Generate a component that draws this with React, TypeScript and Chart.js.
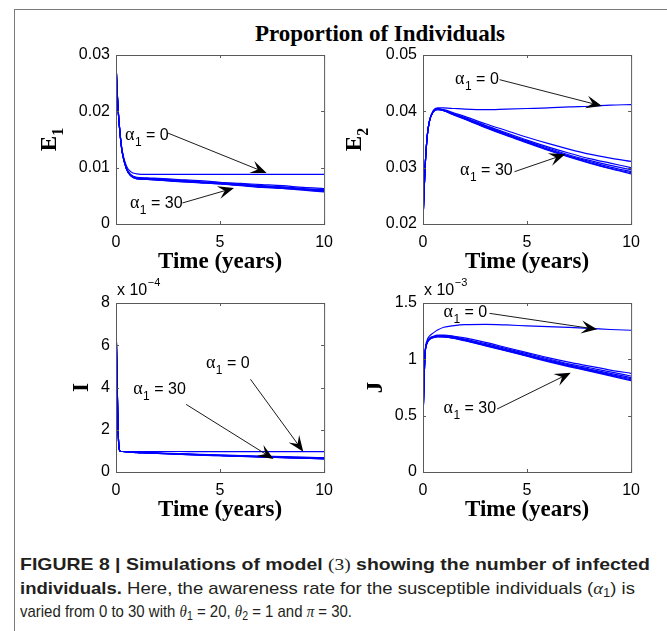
import React, { useEffect, useLayoutEffect, useRef } from "react";
import { Chart, registerables } from "chart.js";
Chart.register(...registerables);

// ---------- data ----------
const T = [0, 0.05, 0.1, 0.2, 0.3, 0.5, 0.7, 1, 1.5, 2, 3, 4, 5, 6, 7, 8, 9, 10];
const ALPHA = [0, 5, 10, 15, 20, 25, 30];

const X_TICKS = [0, 5, 10];
const X_LABELS = ["0", "5", "10"];

// E1
const E1_A0 = [0.0288, 0.024, 0.0205, 0.016, 0.013, 0.0103, 0.0093, 0.0089, 0.0088, 0.0088, 0.0088, 0.0088, 0.0088, 0.0088, 0.0088, 0.0088, 0.0088, 0.0088];
const E1_A5 = [0.0288, 0.024, 0.0204, 0.0158, 0.0127, 0.0099, 0.0088, 0.0083, 0.0082, 0.0081, 0.0079, 0.0077, 0.0074, 0.0072, 0.007, 0.0068, 0.0065, 0.0063];
const E1_A10 = [0.0288, 0.024, 0.0204, 0.0158, 0.0127, 0.0099, 0.0087, 0.0082, 0.0081, 0.008, 0.0078, 0.0075, 0.0073, 0.0071, 0.0068, 0.0066, 0.0063, 0.0061];
const E1_A15 = [0.0288, 0.024, 0.0204, 0.0158, 0.0127, 0.0098, 0.0087, 0.0081, 0.008, 0.0079, 0.0077, 0.0075, 0.0072, 0.007, 0.0067, 0.0065, 0.0062, 0.006];
const E1_A20 = [0.0288, 0.024, 0.0204, 0.0158, 0.0127, 0.0098, 0.0086, 0.0081, 0.008, 0.0079, 0.0076, 0.0074, 0.0072, 0.0069, 0.0067, 0.0064, 0.0062, 0.0059];
const E1_A25 = [0.0288, 0.024, 0.0204, 0.0158, 0.0127, 0.0098, 0.0086, 0.008, 0.0079, 0.0078, 0.0076, 0.0074, 0.0071, 0.0069, 0.0066, 0.0063, 0.0061, 0.0058];
const E1_A30 = [0.0288, 0.024, 0.0204, 0.0158, 0.0127, 0.0098, 0.0086, 0.008, 0.0079, 0.0078, 0.0075, 0.0073, 0.0071, 0.0068, 0.0065, 0.0063, 0.006, 0.0057];
const E1_TICKS = [0, 0.01, 0.02, 0.03];
const E1_LABELS = ["0", "0.01", "0.02", "0.03"];

// E2
const E2_A0 = [0.0205, 0.0255, 0.03, 0.0355, 0.0382, 0.0402, 0.0406, 0.0406, 0.0405, 0.0404, 0.0403, 0.0404, 0.0405, 0.0406, 0.0408, 0.0409, 0.0411, 0.0412];
const E2_A5 = [0.0205, 0.0255, 0.03, 0.0355, 0.0381, 0.0401, 0.0405, 0.0403, 0.0397, 0.0391, 0.0378, 0.0366, 0.0354, 0.0343, 0.0333, 0.0324, 0.0317, 0.0311];
const E2_A10 = [0.0205, 0.0255, 0.03, 0.0355, 0.0381, 0.04, 0.0404, 0.0402, 0.0395, 0.0389, 0.0375, 0.0362, 0.0349, 0.0337, 0.0326, 0.0316, 0.0308, 0.03];
const E2_A15 = [0.0205, 0.0255, 0.03, 0.0355, 0.0381, 0.04, 0.0404, 0.0402, 0.0395, 0.0388, 0.0374, 0.036, 0.0347, 0.0335, 0.0323, 0.0313, 0.0304, 0.0296];
const E2_A20 = [0.0205, 0.0255, 0.03, 0.0355, 0.0381, 0.04, 0.0404, 0.0401, 0.0394, 0.0387, 0.0373, 0.0359, 0.0346, 0.0333, 0.0321, 0.0311, 0.0301, 0.0293];
const E2_A25 = [0.0205, 0.0255, 0.03, 0.0355, 0.0381, 0.04, 0.0403, 0.0401, 0.0394, 0.0387, 0.0372, 0.0358, 0.0345, 0.0332, 0.032, 0.0309, 0.0299, 0.0291];
const E2_A30 = [0.0205, 0.0255, 0.03, 0.0355, 0.0381, 0.0399, 0.0403, 0.0401, 0.0393, 0.0386, 0.0371, 0.0357, 0.0344, 0.0331, 0.0319, 0.0308, 0.0298, 0.0289];
const E2_TICKS = [0.02, 0.03, 0.04, 0.05];
const E2_LABELS = ["0.02", "0.03", "0.04", "0.05"];

// I (in units of 1e-4)
const I_A0 = [7.2, 4.6, 2.0, 0.98, 0.97, 0.97, 0.97, 0.97, 0.97, 0.97, 0.97, 0.96, 0.96, 0.96, 0.96, 0.96, 0.96, 0.96];
const I_A5 = [7.2, 4.6, 2.0, 0.98, 0.97, 0.96, 0.95, 0.94, 0.92, 0.9, 0.87, 0.84, 0.81, 0.78, 0.75, 0.73, 0.7, 0.68];
const I_A10 = [7.2, 4.6, 2.0, 0.98, 0.97, 0.96, 0.95, 0.93, 0.91, 0.89, 0.86, 0.82, 0.79, 0.76, 0.73, 0.71, 0.68, 0.66];
const I_A15 = [7.2, 4.6, 2.0, 0.98, 0.97, 0.96, 0.94, 0.93, 0.91, 0.89, 0.85, 0.82, 0.78, 0.75, 0.72, 0.7, 0.67, 0.645];
const I_A20 = [7.2, 4.6, 2.0, 0.98, 0.97, 0.96, 0.94, 0.93, 0.9, 0.88, 0.85, 0.81, 0.78, 0.75, 0.72, 0.69, 0.66, 0.635];
const I_A25 = [7.2, 4.6, 2.0, 0.98, 0.97, 0.95, 0.94, 0.92, 0.9, 0.88, 0.84, 0.81, 0.77, 0.74, 0.71, 0.68, 0.65, 0.625];
const I_A30 = [7.2, 4.6, 2.0, 0.98, 0.97, 0.95, 0.94, 0.92, 0.9, 0.88, 0.84, 0.8, 0.77, 0.74, 0.71, 0.68, 0.65, 0.615];
const I_TICKS = [0, 2, 4, 6, 8];
const I_LABELS = ["0", "2", "4", "6", "8"];

// J (in units of 1e-3)
const J_A0 = [0.45, 0.8, 1.06, 1.17, 1.205, 1.235, 1.26, 1.285, 1.3, 1.308, 1.31, 1.305, 1.297, 1.29, 1.283, 1.275, 1.265, 1.258];
const J_A5 = [0.45, 0.8, 1.05, 1.15, 1.185, 1.205, 1.215, 1.215, 1.205, 1.19, 1.15, 1.105, 1.06, 1.015, 0.975, 0.94, 0.905, 0.876];
const J_A10 = [0.45, 0.8, 1.05, 1.148, 1.18, 1.2, 1.21, 1.21, 1.2, 1.18, 1.14, 1.095, 1.05, 1.005, 0.96, 0.925, 0.888, 0.852];
const J_A15 = [0.45, 0.8, 1.05, 1.147, 1.178, 1.198, 1.205, 1.205, 1.195, 1.175, 1.132, 1.087, 1.04, 0.995, 0.952, 0.913, 0.875, 0.838];
const J_A20 = [0.45, 0.8, 1.05, 1.146, 1.176, 1.196, 1.203, 1.202, 1.19, 1.172, 1.128, 1.082, 1.035, 0.99, 0.946, 0.906, 0.866, 0.828];
const J_A25 = [0.45, 0.8, 1.05, 1.145, 1.175, 1.194, 1.201, 1.2, 1.188, 1.168, 1.124, 1.078, 1.031, 0.985, 0.941, 0.9, 0.86, 0.818];
const J_A30 = [0.45, 0.8, 1.05, 1.144, 1.174, 1.192, 1.199, 1.198, 1.186, 1.165, 1.12, 1.074, 1.027, 0.98, 0.936, 0.895, 0.853, 0.81];
const J_TICKS = [0, 0.5, 1, 1.5];
const J_LABELS = ["0", "0.5", "1", "1.5"];

// ---------- layout ----------
const PLOT_W = 210;
const PLOT_H = 169;
const M_LEFT = 90;
const M_TOP = 32;
const M_RIGHT = 16;
const M_BOTTOM = 52;
const Y_AXIS_W = 60;
const X_AXIS_H = 40;
const BLUE = "#0000ff";
const BOX = "#5a5a5a";

type Ann = { label: string; text: [number, number]; tail: [number, number]; tip: [number, number] };
type Sub = {
  key: string; left: number; top: number; series: number[][];
  yMin: number; yMax: number; yTicks: number[]; yLabels: string[];
  ylabel: string; ysub: string; yOffset: number; exponent: string | null; anns: Ann[];
};

const SUBPLOTS: Sub[] = [
  {
    key: "E1", left: 116, top: 55, series: [E1_A0, E1_A5, E1_A10, E1_A15, E1_A20, E1_A25, E1_A30],
    yMin: 0, yMax: 0.03, yTicks: E1_TICKS, yLabels: E1_LABELS, ylabel: "E", ysub: "1", yOffset: 60, exponent: null,
    anns: [
      { label: "0", text: [0.43, 0.0149], tail: [2.48, 0.01616], tip: [7.24, 0.00905] },
      { label: "30", text: [0.67, 0.00284], tail: [3.19, 0.00373], tip: [5.67, 0.00639] },
    ],
  },
  {
    key: "E2", left: 423, top: 55, series: [E2_A0, E2_A5, E2_A10, E2_A15, E2_A20, E2_A25, E2_A30],
    yMin: 0.02, yMax: 0.05, yTicks: E2_TICKS, yLabels: E2_LABELS, ylabel: "E", ysub: "2", yOffset: 62, exponent: null,
    anns: [
      { label: "0", text: [1.54, 0.04485], tail: [3.68, 0.04562], tip: [8.6, 0.04095] },
      { label: "30", text: [1.78, 0.0287], tail: [4.4, 0.02929], tip: [6.83, 0.03237] },
    ],
  },
  {
    key: "I", left: 116, top: 303, series: [I_A0, I_A5, I_A10, I_A15, I_A20, I_A25, I_A30],
    yMin: 0, yMax: 8, yTicks: I_TICKS, yLabels: I_LABELS, ylabel: "I", ysub: "", yOffset: 28, exponent: "\u22124",
    anns: [
      { label: "0", text: [4.32, 4.91], tail: [6.46, 4.39], tip: [9.0, 0.96] },
      { label: "30", text: [0.825, 3.69], tail: [3.37, 3.2], tip: [7.57, 0.615] },
    ],
  },
  {
    key: "J", left: 423, top: 303, series: [J_A0, J_A5, J_A10, J_A15, J_A20, J_A25, J_A30],
    yMin: 0, yMax: 1.5, yTicks: J_TICKS, yLabels: J_LABELS, ylabel: "J", ysub: "", yOffset: 41, exponent: "\u22123",
    anns: [
      { label: "0", text: [0.985, 1.373], tail: [3.2, 1.408], tip: [8.37, 1.266] },
      { label: "30", text: [0.985, 0.526], tail: [3.56, 0.559], tip: [7.1, 0.881] },
    ],
  },
];

// ---------- drawing helpers ----------
function drawArrow(ctx: CanvasRenderingContext2D, x0: number, y0: number, x1: number, y1: number) {
  const dx = x1 - x0, dy = y1 - y0;
  const len = Math.hypot(dx, dy);
  const ux = dx / len, uy = dy / len;
  const px = -uy, py = ux;
  const L = 16, W = 6.5, N = 0.6;
  const bx = x1 - ux * L, by = y1 - uy * L;
  const nx = x1 - ux * L * N, ny = y1 - uy * L * N;
  ctx.strokeStyle = "#000";
  ctx.lineWidth = 0.9;
  ctx.beginPath();
  ctx.moveTo(x0, y0);
  ctx.lineTo(nx, ny);
  ctx.stroke();
  ctx.fillStyle = "#000";
  ctx.beginPath();
  ctx.moveTo(x1, y1);
  ctx.lineTo(bx + px * W, by + py * W);
  ctx.lineTo(nx, ny);
  ctx.lineTo(bx - px * W, by - py * W);
  ctx.closePath();
  ctx.fill();
}

function drawAlpha(ctx: CanvasRenderingContext2D, x: number, y: number, value: string) {
  ctx.fillStyle = "#000";
  ctx.textAlign = "left";
  ctx.textBaseline = "alphabetic";
  ctx.font = '18px "Liberation Serif"';
  ctx.fillText("\u03b1", x, y);
  let cx = x + ctx.measureText("\u03b1").width + 0.5;
  ctx.font = '12px "Liberation Sans"';
  ctx.fillText("1", cx, y + 6);
  cx += ctx.measureText("1").width;
  ctx.font = '16px "Liberation Sans"';
  ctx.fillText(" = " + value, cx, y);
}

function makeDecor(sp: Sub) {
  return {
    id: "decor" + sp.key,
    afterDatasetsDraw(chart: any) {
      const ctx: CanvasRenderingContext2D = chart.ctx;
      const a = chart.chartArea;
      const xs = chart.scales.x, ys = chart.scales.y;
      ctx.save();
      // box
      ctx.strokeStyle = BOX;
      ctx.lineWidth = 1;
      ctx.strokeRect(a.left + 0.5, a.top + 0.5, a.right - a.left, a.bottom - a.top);
      // inward ticks on all sides
      ctx.beginPath();
      for (const v of X_TICKS) {
        const px = Math.round(xs.getPixelForValue(v)) + 0.5;
        ctx.moveTo(px, a.bottom); ctx.lineTo(px, a.bottom - 3);
        ctx.moveTo(px, a.top); ctx.lineTo(px, a.top + 3);
      }
      for (const v of sp.yTicks) {
        const py = Math.round(ys.getPixelForValue(v)) + 0.5;
        ctx.moveTo(a.left, py); ctx.lineTo(a.left + 3, py);
        ctx.moveTo(a.right, py); ctx.lineTo(a.right - 3, py);
      }
      ctx.stroke();
      // annotations
      for (const an of sp.anns) {
        drawAlpha(ctx, xs.getPixelForValue(an.text[0]), ys.getPixelForValue(an.text[1]), an.label);
        drawArrow(ctx, xs.getPixelForValue(an.tail[0]), ys.getPixelForValue(an.tail[1]),
          xs.getPixelForValue(an.tip[0]), ys.getPixelForValue(an.tip[1]));
      }
      // x label
      ctx.fillStyle = "#000";
      ctx.font = 'bold 23px "Liberation Serif"';
      ctx.textAlign = "center";
      ctx.textBaseline = "alphabetic";
      ctx.fillText("Time (years)", (a.left + a.right) / 2, a.bottom + 44);
      // y label (rotated)
      ctx.save();
      ctx.translate(a.left - sp.yOffset, (a.top + a.bottom) / 2);
      ctx.rotate(-Math.PI / 2);
      ctx.font = 'bold 23px "Liberation Serif"';
      const wMain = ctx.measureText(sp.ylabel).width;
      ctx.font = 'bold 16px "Liberation Serif"';
      const wSub = sp.ysub ? ctx.measureText(sp.ysub).width : 0;
      const start = -(wMain + wSub) / 2;
      ctx.textAlign = "left";
      ctx.font = 'bold 23px "Liberation Serif"';
      ctx.fillText(sp.ylabel, start, 0);
      if (sp.ysub) {
        ctx.font = 'bold 16px "Liberation Serif"';
        ctx.fillText(sp.ysub, start + wMain, 7);
      }
      ctx.restore();
      // exponent
      if (sp.exponent) {
        ctx.textAlign = "left";
        ctx.font = '16px "Liberation Sans"';
        ctx.fillText("x 10", a.left + 1, a.top - 8);
        const w = ctx.measureText("x 10").width;
        ctx.font = '11px "Liberation Sans"';
        ctx.fillText(sp.exponent, a.left + 1 + w + 0.5, a.top - 17);
      }
      ctx.restore();
    },
  };
}

function SubplotChart({ sp }: { sp: Sub }) {
  const ref = useRef<HTMLCanvasElement>(null);
  useEffect(() => {
    if (!ref.current) return;
    const datasets = sp.series.map((vals, k) => ({
      label: "\u03b11 = " + ALPHA[k],
      data: T.map((t, i) => ({ x: t, y: vals[i] })),
      borderColor: BLUE,
      borderWidth: 1.2,
      pointRadius: 0,
      fill: false,
      cubicInterpolationMode: "monotone" as const,
    }));
    const chart = new Chart(ref.current, {
      type: "line",
      data: { datasets },
      options: {
        animation: false,
        responsive: false,
        devicePixelRatio: 1,
        layout: { padding: { left: M_LEFT - Y_AXIS_W, top: M_TOP, right: M_RIGHT, bottom: M_BOTTOM - X_AXIS_H } },
        plugins: { legend: { display: false }, tooltip: { enabled: false }, title: { display: false } },
        scales: {
          x: {
            type: "linear", min: 0, max: 10,
            grid: { display: false, drawTicks: false }, border: { display: false },
            afterBuildTicks: (s: any) => { s.ticks = X_TICKS.map((v) => ({ value: v })); },
            afterFit: (s: any) => { s.height = X_AXIS_H; },
            ticks: {
              padding: 9, color: "#000", maxRotation: 0, autoSkip: false,
              font: { family: "Liberation Sans", size: 16 },
              callback: (_v: any, i: number) => X_LABELS[i],
            },
          },
          y: {
            type: "linear", min: sp.yMin, max: sp.yMax,
            grid: { display: false, drawTicks: false }, border: { display: false },
            afterBuildTicks: (s: any) => { s.ticks = sp.yTicks.map((v) => ({ value: v })); },
            afterFit: (s: any) => { s.width = Y_AXIS_W; },
            ticks: {
              padding: 6, color: "#000", autoSkip: false,
              font: { family: "Liberation Sans", size: 16 },
              callback: (_v: any, i: number) => sp.yLabels[i],
            },
          },
        },
      },
      plugins: [makeDecor(sp)],
    });
    return () => chart.destroy();
  }, [sp]);
  const W = M_LEFT + PLOT_W + M_RIGHT;
  const H = M_TOP + PLOT_H + M_BOTTOM;
  return (
    <canvas
      ref={ref}
      width={W}
      height={H}
      style={{ position: "absolute", left: sp.left - M_LEFT, top: sp.top - M_TOP, width: W, height: H }}
    />
  );
}

function FitLine({ top, width, children }: { top: number; width: number; children: React.ReactNode }) {
  const ref = useRef<HTMLDivElement>(null);
  useLayoutEffect(() => {
    const el = ref.current;
    if (!el) return;
    el.style.transform = "none";
    const w = el.getBoundingClientRect().width;
    if (w > 0) el.style.transform = `scaleX(${width / w})`;
  }, [width]);
  return (
    <div
      ref={ref}
      style={{
        position: "absolute", left: 20, top, whiteSpace: "nowrap", transformOrigin: "0 0",
        fontFamily: '"Liberation Sans", Arial, sans-serif', fontSize: 17, lineHeight: "17px", color: "#231f20",
      }}
    >
      {children}
    </div>
  );
}

const mathI: React.CSSProperties = { fontFamily: '"Liberation Serif", serif', fontStyle: "italic" };
const subS: React.CSSProperties = { fontSize: 12, verticalAlign: "-3px", lineHeight: 0 };

export default function App() {
  return (
    <div style={{ position: "absolute", left: 0, top: 0, width: 667, height: 631, background: "#fff", overflow: "hidden" }}>
      <div style={{ position: "absolute", left: 14, top: 9, width: 700, height: 700, borderLeft: "1.5px solid #7a7a7a", borderTop: "1.5px solid #7a7a7a" }} />
      <div
        style={{
          position: "absolute", left: 0, width: 760, top: 22, textAlign: "center",
          fontFamily: '"Liberation Serif", serif', fontWeight: "bold", fontSize: 23, lineHeight: "23px", color: "#000",
        }}
      >
        Proportion of Individuals
      </div>
      {SUBPLOTS.map((sp) => (
        <SubplotChart key={sp.key} sp={sp} />
      ))}
      <FitLine top={556} width={630}>
        <b>FIGURE 8 | Simulations of model </b>
        <span style={{ fontFamily: '"Liberation Serif", serif' }}>(3)</span>
        <b> showing the number of infected</b>
      </FitLine>
      <FitLine top={580} width={615}>
        <b>individuals.</b> Here, the awareness rate for the susceptible individuals (
        <span style={mathI}>α</span>
        <span style={subS}>1</span>) is
      </FitLine>
      <FitLine top={603} width={332}>
        varied from 0 to 30 with <span style={mathI}>θ</span>
        <span style={subS}>1</span> = 20, <span style={mathI}>θ</span>
        <span style={subS}>2</span> = 1 and <span style={mathI}>π</span> = 30.
      </FitLine>
    </div>
  );
}
